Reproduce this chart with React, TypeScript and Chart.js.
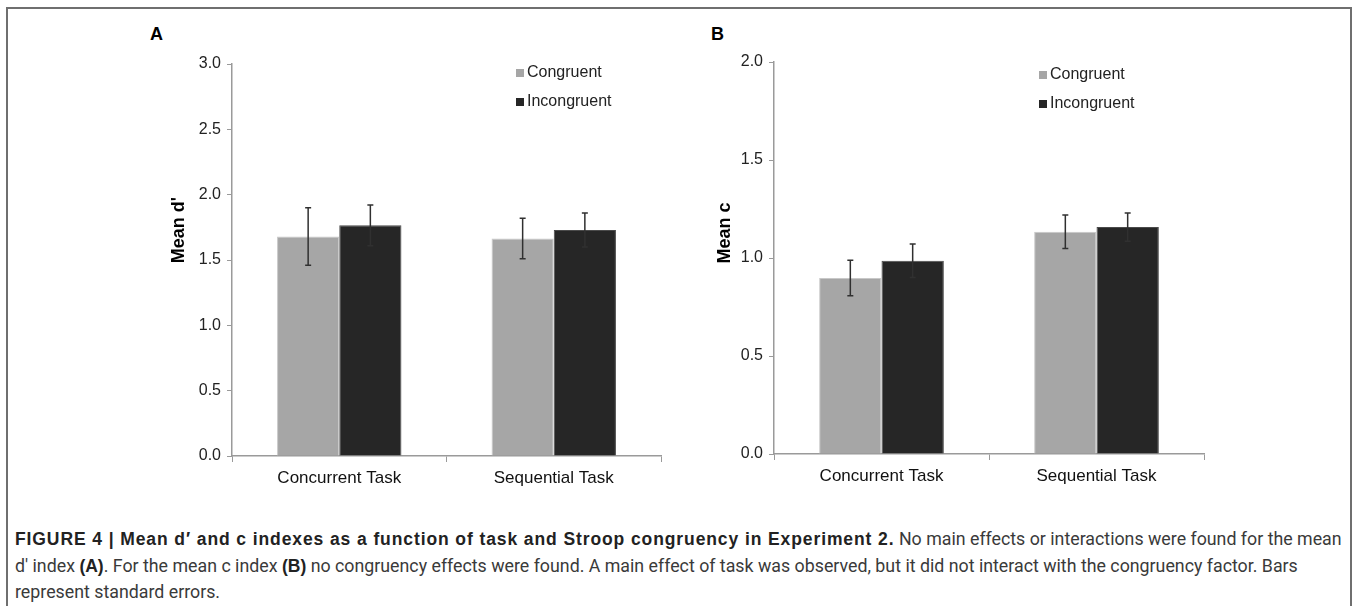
import React, { useEffect, useRef } from "react";
import { Chart, registerables } from "chart.js";

Chart.register(...registerables);

const categories = ["Concurrent Task", "Sequential Task"];
const seriesNames = ["Congruent", "Incongruent"];
const seriesColors = ["#a6a6a6", "#262626"];

const dPrimeCongruent = [1.68, 1.665];
const dPrimeIncongruent = [1.765, 1.73];
const dPrimeErrCongruent = [0.22, 0.155];
const dPrimeErrIncongruent = [0.155, 0.13];
const dPrimeTicks = [0, 0.5, 1.0, 1.5, 2.0, 2.5, 3.0];

const cCongruent = [0.898, 1.134];
const cIncongruent = [0.986, 1.158];
const cErrCongruent = [0.09, 0.086];
const cErrIncongruent = [0.085, 0.072];
const cTicks = [0, 0.5, 1.0, 1.5, 2.0];

const FONT = "'Liberation Sans', Arial, sans-serif";

type PanelCfg = {
  values: number[][];
  errors: number[][];
  ticks: number[];
  max: number;
  yTitle: string;
  pad: { top: number; right: number };
  yWidth: number;
  xHeight: number;
  titlePos: { x: number; y: number };
  legendPos: { x: number; y: number };
};

function makePlugin(cfg: PanelCfg) {
  return {
    id: "extras",
    afterDatasetsDraw(chart: any) {
      const ctx = chart.ctx;
      const y = chart.scales.y;
      ctx.save();
      chart.data.datasets.forEach((ds: any, di: number) => {
        const meta = chart.getDatasetMeta(di);
        meta.data.forEach((bar: any, i: number) => {
          const v = ds.data[i];
          const e = cfg.errors[di][i];
          const yt = y.getPixelForValue(v + e);
          const yb = y.getPixelForValue(v - e);
          const x = bar.x;
          ctx.strokeStyle = "#303030";
          ctx.lineWidth = 1.5;
          ctx.beginPath();
          ctx.moveTo(x, yt);
          ctx.lineTo(x, yb);
          ctx.moveTo(x - 3, yt);
          ctx.lineTo(x + 3, yt);
          ctx.moveTo(x - 3, yb);
          ctx.lineTo(x + 3, yb);
          ctx.stroke();
        });
      });
      // legend
      ctx.font = `16px ${FONT}`;
      ctx.textBaseline = "middle";
      ctx.textAlign = "left";
      chart.data.datasets.forEach((ds: any, di: number) => {
        const ly = cfg.legendPos.y + di * 29;
        ctx.fillStyle = ds.backgroundColor;
        ctx.fillRect(cfg.legendPos.x, ly - 4, 8, 8);
        ctx.fillStyle = "#222";
        ctx.fillText(ds.label, cfg.legendPos.x + 11, ly);
      });
      // axis title
      ctx.translate(cfg.titlePos.x, cfg.titlePos.y);
      ctx.rotate(-Math.PI / 2);
      ctx.textAlign = "center";
      ctx.fillStyle = "#000";
      ctx.font = `bold 18px ${FONT}`;
      ctx.fillText(cfg.yTitle, 0, 0);
      ctx.restore();
    },
  };
}

function Panel({ cfg, style }: { cfg: PanelCfg; style: React.CSSProperties }) {
  const ref = useRef<HTMLCanvasElement>(null);
  useEffect(() => {
    if (!ref.current) return;
    const chart = new Chart(ref.current, {
      type: "bar",
      data: {
        labels: categories,
        datasets: seriesNames.map((n, i) => ({
          label: n,
          data: cfg.values[i],
          backgroundColor: seriesColors[i],
          borderColor: i === 0 ? "#c8c8c8" : "#4a4a4a",
          borderWidth: 1,
          barPercentage: 1,
          categoryPercentage: 0.58,
        })),
      },
      options: {
        animation: false,
        responsive: false,
        maintainAspectRatio: false,
        layout: { padding: { top: cfg.pad.top, right: cfg.pad.right, left: 0, bottom: 0 } },
        plugins: { legend: { display: false }, tooltip: { enabled: false } },
        scales: {
          x: {
            offset: true,
            grid: { display: true, drawOnChartArea: false, offset: true, tickLength: 6, color: "#9a9a9a" },
            border: { display: true, color: "#9a9a9a", width: 1.5 },
            ticks: { color: "#111", font: { size: 17, family: FONT }, padding: 6 },
            afterFit: (s: any) => {
              s.height = cfg.xHeight;
            },
          },
          y: {
            min: 0,
            max: cfg.max,
            afterBuildTicks: (s: any) => {
              s.ticks = cfg.ticks.map((v) => ({ value: v }));
            },
            grid: { display: true, drawOnChartArea: false, tickLength: 5, color: "#9a9a9a" },
            border: { display: true, color: "#9a9a9a", width: 1.5 },
            ticks: {
              color: "#222",
              font: { size: 16, family: FONT },
              padding: 6,
              callback: (v: any) => Number(v).toFixed(1),
            },
            afterFit: (s: any) => {
              s.width = cfg.yWidth;
            },
          },
        },
      },
      plugins: [makePlugin(cfg)],
    } as any);
    return () => chart.destroy();
  }, []);
  return <canvas ref={ref} width={580} height={480} style={{ position: "absolute", ...style }} />;
}

const cfgA: PanelCfg = {
  values: [dPrimeCongruent, dPrimeIncongruent],
  errors: [dPrimeErrCongruent, dPrimeErrIncongruent],
  ticks: dPrimeTicks,
  max: 3,
  yTitle: "Mean d'",
  pad: { top: 44, right: 19 },
  yWidth: 132,
  xHeight: 44,
  titlePos: { x: 79, y: 210 },
  legendPos: { x: 416, y: 53 },
};

const cfgB: PanelCfg = {
  values: [cCongruent, cIncongruent],
  errors: [cErrCongruent, cErrIncongruent],
  ticks: cTicks,
  max: 2,
  yTitle: "Mean c",
  pad: { top: 42, right: 56 },
  yWidth: 94,
  xHeight: 46,
  titlePos: { x: 45, y: 213 },
  legendPos: { x: 359, y: 55 },
};

const boldStyle: React.CSSProperties = {
  fontFamily: "'Liberation Sans', Arial, sans-serif",
  fontWeight: 700,
  fontSize: 17.5,
  color: "#222",
};

export default function App() {
  return (
    <div style={{ position: "absolute", left: 0, top: 0, width: 1357, height: 606, background: "#fff", overflow: "hidden" }}>
      <div
        style={{
          position: "absolute",
          left: 6,
          top: 7,
          width: 1346,
          height: 620,
          border: "2px solid #6f6f6f",
          boxSizing: "border-box",
        }}
      />
      <div style={{ position: "absolute", left: 150, top: 24, font: `bold 18px ${FONT}`, color: "#000" }}>A</div>
      <div style={{ position: "absolute", left: 711, top: 24, font: `bold 18px ${FONT}`, color: "#000" }}>B</div>
      <Panel cfg={cfgA} style={{ left: 100, top: 20 }} />
      <Panel cfg={cfgB} style={{ left: 680, top: 20 }} />
      <div
        style={{
          position: "absolute",
          left: 15,
          top: 526,
          fontFamily: "Roboto, 'Liberation Sans', sans-serif",
          fontSize: 17.8,
          lineHeight: "26.5px",
          color: "#3a3a3a",
          whiteSpace: "nowrap",
        }}
      >
        <div>
          <span style={{ ...boldStyle, letterSpacing: 0.9 }}>
            FIGURE 4 | Mean d′ and c indexes as a function of task and Stroop congruency in Experiment 2.
          </span>{" "}
          No main effects or interactions were found for the mean
        </div>
        <div>
          d′ index <span style={boldStyle}>(A)</span>. For the mean c index <span style={boldStyle}>(B)</span> no
          congruency effects were found. A main effect of task was observed, but it did not interact with the
          congruency factor. Bars
        </div>
        <div>represent standard errors.</div>
      </div>
    </div>
  );
}
